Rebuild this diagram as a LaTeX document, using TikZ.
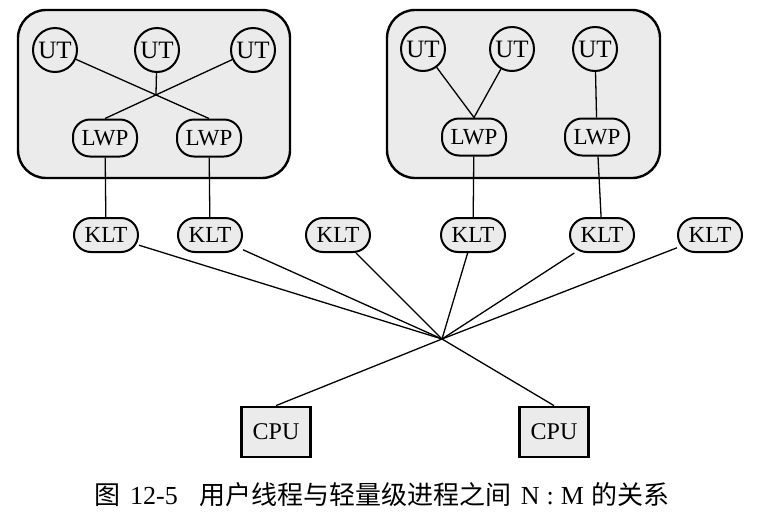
\documentclass[tikz,border=0pt]{standalone}
\usepackage{fontspec}
\setmainfont{Liberation Serif}
\newfontfamily\cjk{Noto Sans CJK SC}
\begin{document}
\begin{tikzpicture}[x=1pt,y=-1pt,
  grp/.style={draw=black,line width=2.4pt,fill=black!8,rounded corners=28pt},
  ut/.style={circle,draw=black,line width=2pt,fill=black!8,minimum size=44pt,inner sep=0pt,font=\fontsize{25}{28}\selectfont},
  pill/.style={rectangle,draw=black,line width=2pt,fill=black!8,rounded corners=17pt,minimum width=64pt,minimum height=37pt,inner sep=0pt,font=\fontsize{23}{26}\selectfont},
  klt/.style={pill,minimum height=34pt},
  cpu/.style={rectangle,draw=black,line width=2.8pt,fill=black!8,minimum width=69pt,minimum height=50pt,inner sep=0pt,font=\fontsize{24}{27}\selectfont},
  conn/.style={draw=black,line width=1.3pt}]
\useasboundingbox (0,0) rectangle (763,520);
% group boxes
\node[grp,minimum width=272pt,minimum height=168pt] (g1) at (154,94) {};
\node[grp,minimum width=273pt,minimum height=168pt] (g2) at (523.5,94) {};
% user threads
\node[ut] (u1) at (55,50) {UT};
\node[ut] (u2) at (157,50) {UT};
\node[ut] (u3) at (253,50) {UT};
\node[ut] (u4) at (423,49) {UT};
\node[ut] (u5) at (512,49) {UT};
\node[ut] (u6) at (595,49) {UT};
% LWPs
\node[pill] (l1) at (105,138) {LWP};
\node[pill] (l2) at (209,138) {LWP};
\node[pill] (l3) at (474,137) {LWP};
\node[pill] (l4) at (597,137) {LWP};
% KLTs
\node[klt] (k1) at (106,235) {KLT};
\node[klt] (k2) at (210,235) {KLT};
\node[klt] (k3) at (338,235) {KLT};
\node[klt] (k4) at (473,235) {KLT};
\node[klt] (k5) at (602,235) {KLT};
\node[klt] (k6) at (710,235) {KLT};
% CPUs
\node[cpu] (c1) at (276,432) {CPU};
\node[cpu] (c2) at (554,432) {CPU};
% convergence point
\coordinate (hub) at (442,339);
\coordinate (x1) at (intersection of u1--l2.north and u3--l1.north);
% connectors
\draw[conn] (u1) -- (l2.north);
\draw[conn] (u3) -- (l1.north);
\draw[conn] (u2) -- (x1);
\draw[conn] (u4) -- (l3.north);
\draw[conn] (u5) -- (l3.north);
\draw[conn] (u6) -- (l4);
\draw[conn] (l1) -- (k1);
\draw[conn] (l2) -- (k2);
\draw[conn] (l3) -- (k4);
\draw[conn] (l4) -- (k5);
\foreach \k in {k1,k2,k3,k4,k5,k6} \draw[conn] (\k) -- (hub);
\draw[conn] (hub) -- (c1.north);
\draw[conn] (hub) -- (c2.north);
% caption
\node[inner sep=0pt] (cap) at (382,495) {\fontsize{26}{29}\selectfont{\cjk 图}\hspace{10pt}12-5\hspace{22pt}{\cjk 用户线程与轻量级进程之间}\hspace{9pt}N\hspace{7pt}:\hspace{7pt}M\hspace{8pt}{\cjk 的关系}};
\end{tikzpicture}
\end{document}
